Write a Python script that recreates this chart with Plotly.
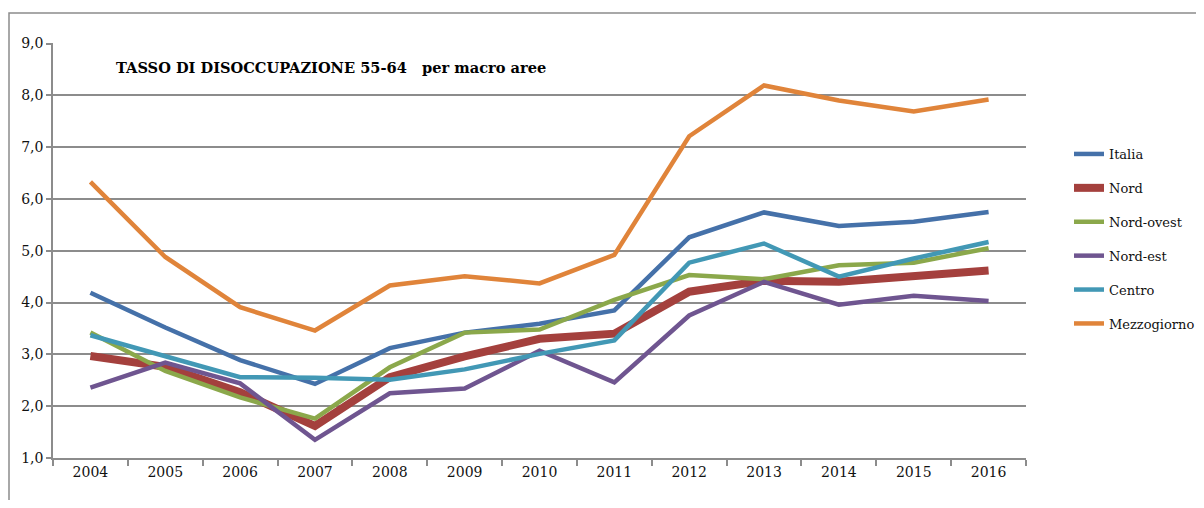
import plotly.graph_objects as go

years = ["2004", "2005", "2006", "2007", "2008", "2009", "2010",
         "2011", "2012", "2013", "2014", "2015", "2016"]

italia = [4.19, 3.52, 2.89, 2.43, 3.12, 3.42, 3.59, 3.85, 5.26, 5.74, 5.48, 5.56, 5.75]
nord = [2.97, 2.76, 2.27, 1.62, 2.56, 2.96, 3.30, 3.40, 4.21, 4.42, 4.40, 4.51, 4.62]
nord_ovest = [3.42, 2.68, 2.17, 1.76, 2.75, 3.42, 3.48, 4.05, 4.53, 4.45, 4.72, 4.77, 5.05]
nord_est = [2.36, 2.84, 2.44, 1.35, 2.25, 2.34, 3.07, 2.46, 3.75, 4.40, 3.96, 4.13, 4.03]
centro = [3.37, 2.97, 2.56, 2.55, 2.51, 2.71, 3.01, 3.27, 4.77, 5.14, 4.50, 4.85, 5.17]
mezzogiorno = [6.33, 4.88, 3.91, 3.46, 4.33, 4.51, 4.37, 4.92, 7.21, 8.19, 7.90, 7.69, 7.92]

series = [
    ("Italia", italia, "#4571A9", 4.5),
    ("Nord", nord, "#A4403D", 8),
    ("Nord-ovest", nord_ovest, "#8BA84B", 4.5),
    ("Nord-est", nord_est, "#6F5590", 4.5),
    ("Centro", centro, "#4298B5", 4.5),
    ("Mezzogiorno", mezzogiorno, "#E0843A", 4.5),
]

title_text = "TASSO DI DISOCCUPAZIONE 55-64\u00a0\u00a0\u00a0per macro aree"

fig = go.Figure()
for name, vals, color, w in series:
    fig.add_trace(go.Scatter(
        x=years, y=vals, name=name, mode="lines", legendgroup=name,
        line=dict(color=color, width=w),
    ))

# page body has an 8px margin: work in figure coordinates = page - 8
OFF = 8
L, R, T, B = 53 - OFF, 1026 - OFF, 43 - OFF, 458 - OFF
W, H = 1196, 492
pw, ph = R - L, B - T

fig.update_layout(
    width=W, height=H,
    margin=dict(l=L, r=W - R, t=T, b=H - B),
    paper_bgcolor="white", plot_bgcolor="white",
    font=dict(family="DejaVu Serif", size=14, color="#111111"),
    separators=",.",
    showlegend=True,
    legend=dict(
        xref="container", yref="container",
        x=(1069 - OFF) / W, xanchor="left",
        y=(H - (139 - OFF)) / H, yanchor="top",
        font=dict(family="DejaVu Serif", size=13, color="#111111"),
        traceorder="grouped", tracegroupgap=14,
        bgcolor="rgba(0,0,0,0)",
    ),
    xaxis=dict(
        type="category", showgrid=False, showline=True,
        linecolor="#8c8c8c", linewidth=1.5,
        ticks="outside", tickson="boundaries", ticklen=6, tickcolor="#8c8c8c",
        tickwidth=1.5,
        range=[-0.5, 12.5],
        tickfont=dict(family="DejaVu Serif", size=14),
    ),
    yaxis=dict(
        range=[1, 9.01], dtick=1, tick0=1, tickformat=".1f",
        showgrid=True, gridcolor="#8c8c8c", gridwidth=1.5,
        showline=True, linecolor="#8c8c8c", linewidth=1.5,
        ticks="outside", ticklen=5, tickcolor="#8c8c8c", tickwidth=1.5,
        zeroline=False,
        tickfont=dict(family="DejaVu Serif", size=14),
    ),
    shapes=[dict(
        type="rect", xref="paper", yref="paper",
        x0=(9 - OFF - L) / pw, x1=(1260 - L) / pw,
        y0=(B - 520) / ph, y1=(B - (13 - OFF)) / ph,
        line=dict(color="#8c8c8c", width=1.5), fillcolor="rgba(0,0,0,0)",
        layer="below",
    )],
    annotations=[dict(
        text="<b>" + title_text + "</b>", xref="paper", yref="paper",
        x=(114 - OFF - L) / pw, xanchor="left",
        y=(B - (68 - OFF)) / ph, yanchor="middle",
        showarrow=False,
        font=dict(family="DejaVu Serif", size=14.6, color="#000000"),
    )],
)

fig.write_html("out.html")
